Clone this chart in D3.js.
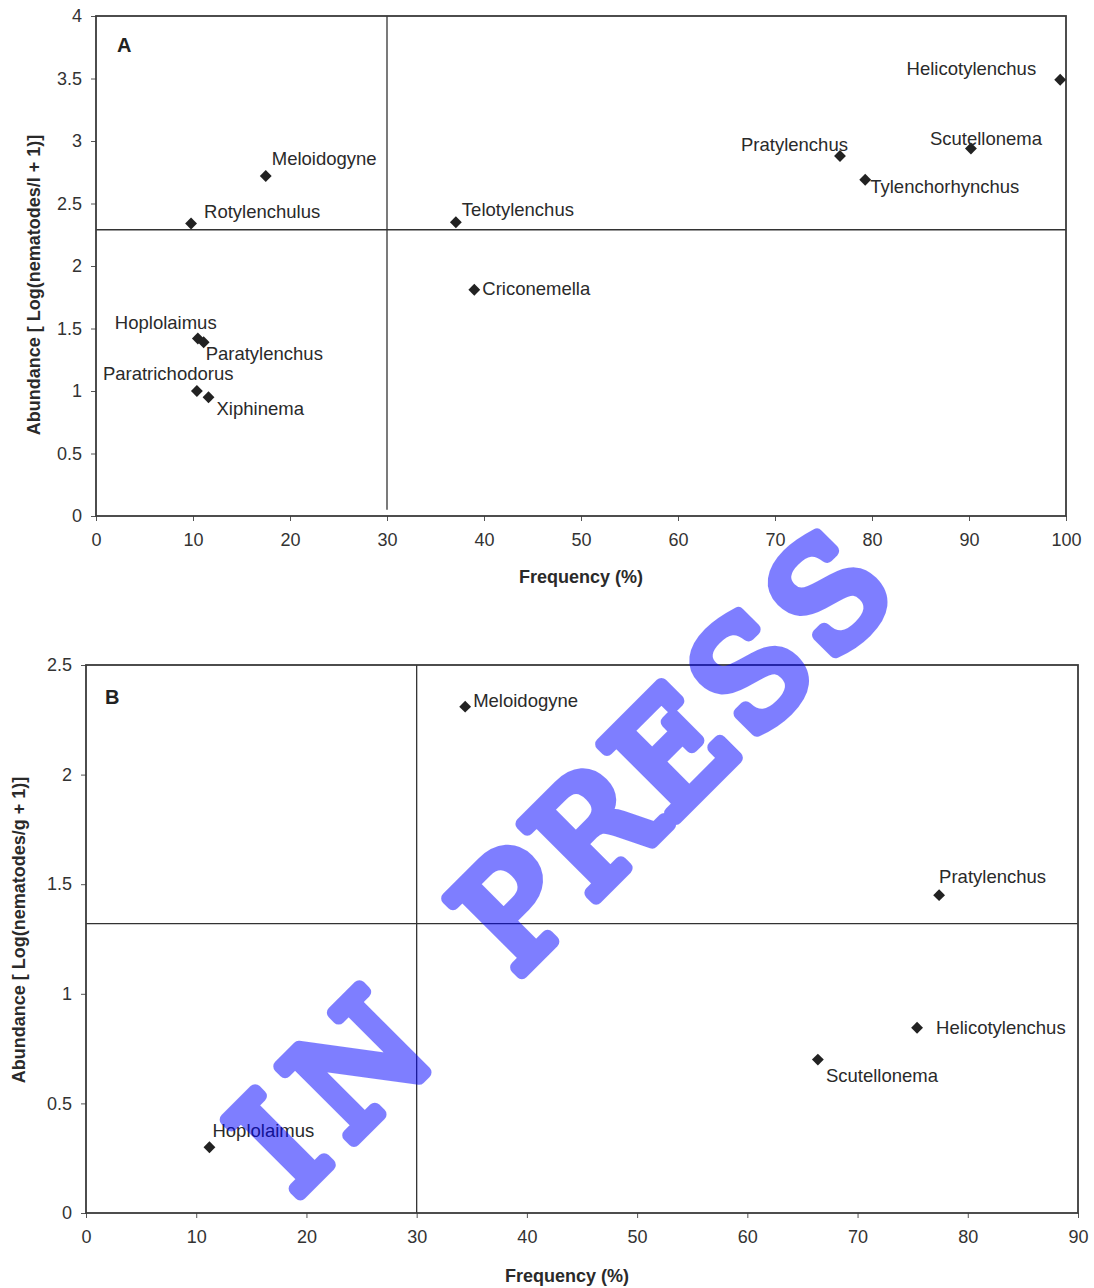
<!DOCTYPE html>
<html>
<head>
<meta charset="utf-8">
<script src="https://cdn.jsdelivr.net/npm/d3@7"></script>
<style>
  body { margin: 0; background: #fff; }
  svg text { font-family: "Liberation Sans", Arial, sans-serif; }
</style>
</head>
<body>
<div id="chart"></div>
<script>
// panel A : water samples
const speciesA = ['Helicotylenchus', 'Scutellonema', 'Pratylenchus', 'Tylenchorhynchus', 'Telotylenchus',
  'Criconemella', 'Meloidogyne', 'Rotylenchulus', 'Hoplolaimus', 'Paratylenchus', 'Paratrichodorus', 'Xiphinema'];
const freqA = [99.4, 90.2, 76.7, 79.3, 37.1, 39.0, 17.5, 9.8, 10.5, 11.1, 10.4, 11.6];
const abundA = [3.49, 2.94, 2.88, 2.69, 2.35, 1.81, 2.72, 2.34, 1.42, 1.39, 1.00, 0.95];
const xTicksA = [0, 10, 20, 30, 40, 50, 60, 70, 80, 90, 100];
const yTicksA = [0, 0.5, 1, 1.5, 2, 2.5, 3, 3.5, 4];

// panel B : soil samples
const speciesB = ['Meloidogyne', 'Pratylenchus', 'Helicotylenchus', 'Scutellonema', 'Hoplolaimus'];
const freqB = [34.4, 77.4, 75.4, 66.4, 11.2];
const abundB = [2.31, 1.45, 0.845, 0.70, 0.30];
const xTicksB = [0, 10, 20, 30, 40, 50, 60, 70, 80, 90];
const yTicksB = [0, 0.5, 1, 1.5, 2, 2.5];

// mean lines (frequency cut-off, mean abundance)
const refFreq = [30, 30];
const refAbund = [2.29, 1.32];

// label placement relative to the marker [dx, dy, anchor]
const offsA = {
  Helicotylenchus: [-24, -5, 'end'], Scutellonema: [-41, -4, 'start'], Pratylenchus: [-99, -5, 'start'],
  Tylenchorhynchus: [5, 13, 'start'], Telotylenchus: [6, -6, 'start'], Criconemella: [8, 5, 'start'],
  Meloidogyne: [6, -11, 'start'], Rotylenchulus: [13, -6, 'start'], Hoplolaimus: [-83, -10, 'start'],
  Paratylenchus: [2, 18, 'start'], Paratrichodorus: [-94, -11, 'start'], Xiphinema: [8, 18, 'start']
};
const offsB = {
  Meloidogyne: [8, 0, 'start'], Pratylenchus: [0, -12, 'start'], Helicotylenchus: [19, 6, 'start'],
  Scutellonema: [8, 22, 'start'], Hoplolaimus: [3, -10, 'start']
};

const W = 1094, H = 1288;
const svg = d3.select('#chart').append('svg')
  .attr('width', W)
  .attr('height', H);

function drawPanel(p) {
  const x = d3.scaleLinear().domain([p.xTicks[0], p.xTicks[p.xTicks.length - 1]]).range([p.left, p.right]);
  const y = d3.scaleLinear().domain([p.yTicks[0], p.yTicks[p.yTicks.length - 1]]).range([p.bottom, p.top]);
  const g = svg.append('g');

  const xAxis = g.append('g')
    .attr('transform', `translate(0,${p.bottom})`)
    .call(d3.axisBottom(x).tickValues(p.xTicks).tickSize(5).tickPadding(12).tickSizeOuter(0).tickFormat(d => d));
  const yAxis = g.append('g')
    .attr('transform', `translate(${p.left},0)`)
    .call(d3.axisLeft(y).tickValues(p.yTicks).tickSize(5).tickPadding(9).tickSizeOuter(0).tickFormat(d => d));
  [xAxis, yAxis].forEach(a => {
    a.select('.domain').remove();
    a.selectAll('line').attr('stroke', '#555');
    a.selectAll('text').attr('font-size', 18).attr('fill', '#333');
  });

  // mean lines
  g.append('line')
    .attr('x1', x(p.refX)).attr('x2', x(p.refX))
    .attr('y1', y(p.yTicks[p.yTicks.length - 1])).attr('y2', y(p.refYStart))
    .attr('stroke', '#333').attr('stroke-width', 1.3);
  g.append('line')
    .attr('x1', p.left).attr('x2', p.right)
    .attr('y1', y(p.refY)).attr('y2', y(p.refY))
    .attr('stroke', '#333').attr('stroke-width', 1.3);

  // frame
  g.append('rect')
    .attr('x', p.left).attr('y', p.top)
    .attr('width', p.right - p.left).attr('height', p.bottom - p.top)
    .attr('fill', 'none').attr('stroke', '#3a3a3a').attr('stroke-width', 1.8);

  const pts = p.species.map((s, i) => ({ name: s, f: p.freq[i], a: p.abund[i] }));

  g.selectAll('path.pt')
    .data(pts)
    .enter()
    .append('path')
    .attr('class', 'pt')
    .attr('d', d3.symbol().type(d3.symbolSquare).size(70))
    .attr('transform', d => `translate(${x(d.f)},${y(d.a)}) rotate(45)`)
    .attr('fill', '#222');

  g.selectAll('text.lbl')
    .data(pts)
    .enter()
    .append('text')
    .attr('class', 'lbl')
    .attr('x', d => x(d.f) + p.offs[d.name][0])
    .attr('y', d => y(d.a) + p.offs[d.name][1])
    .attr('text-anchor', d => p.offs[d.name][2])
    .attr('font-size', 18.5)
    .attr('fill', '#2a2a2a')
    .text(d => d.name);

  g.append('text')
    .attr('x', p.letterX).attr('y', p.letterY)
    .attr('font-size', 20).attr('font-weight', 'bold').attr('fill', '#222')
    .text(p.letter);

  g.append('text')
    .attr('x', p.xTitleX).attr('y', p.xTitleY)
    .attr('text-anchor', 'middle')
    .attr('font-size', 18).attr('font-weight', 'bold').attr('fill', '#2a2a2a')
    .text('Frequency (%)');

  g.append('text')
    .attr('transform', `translate(${p.yTitleX},${p.yTitleY}) rotate(-90)`)
    .attr('text-anchor', 'middle')
    .attr('font-size', 18).attr('font-weight', 'bold').attr('fill', '#2a2a2a')
    .text(p.yTitle);
}

drawPanel({
  left: 96, right: 1066, top: 16, bottom: 516,
  xTicks: xTicksA, yTicks: yTicksA,
  species: speciesA, freq: freqA, abund: abundA, offs: offsA,
  refX: refFreq[0], refY: refAbund[0], refYStart: 0.05,
  letter: 'A', letterX: 117, letterY: 52,
  xTitleX: 581, xTitleY: 583,
  yTitle: 'Abundance [ Log(nematodes/l + 1)]', yTitleX: 40, yTitleY: 285
});

drawPanel({
  left: 86, right: 1078, top: 665, bottom: 1213,
  xTicks: xTicksB, yTicks: yTicksB,
  species: speciesB, freq: freqB, abund: abundB, offs: offsB,
  refX: refFreq[1], refY: refAbund[1], refYStart: 0,
  letter: 'B', letterX: 105, letterY: 704,
  xTitleX: 567, xTitleY: 1282,
  yTitle: 'Abundance [ Log(nematodes/g + 1)]', yTitleX: 25, yTitleY: 930
});

// watermark, one glyph per fixed-width cell like a typewriter face
const stamp = 'IN PRESS'.split('');
const cell = 111;
const wm = svg.append('g')
  .attr('opacity', 0.5)
  .attr('transform', 'translate(553,868) rotate(-45)');
wm.selectAll('text')
  .data(stamp)
  .enter()
  .append('text')
  .attr('x', (d, i) => (i - (stamp.length - 1) / 2) * cell)
  .attr('dy', '0.36em')
  .attr('text-anchor', 'middle')
  .style('font-family', '"DejaVu Serif", "Liberation Serif", serif')
  .style('font-weight', 'normal')
  .style('font-size', '144px')
  .attr('fill', 'blue')
  .attr('stroke', 'blue')
  .attr('stroke-width', 13)
  .attr('stroke-linejoin', 'round')
  .text(d => d);
</script>
</body>
</html>
